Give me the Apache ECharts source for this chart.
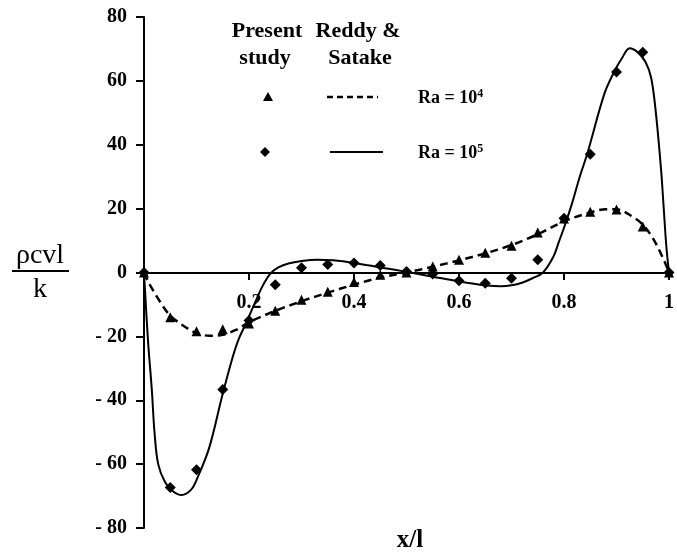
<!DOCTYPE html>
<html>
<head>
<meta charset="utf-8">
<script src="https://cdn.jsdelivr.net/npm/echarts@6/dist/echarts.min.js"></script>
<style>
    html, body { margin: 0; padding: 0; background: #fff; }
    #chart { width: 677px; height: 555px; }
</style>
</head>
<body>
<div id="chart"></div>
<script>
// present study, Ra = 10^4 (triangles)
var presentRa4 = [
    [0, 0], [0.05, -14], [0.1, -18.4], [0.15, -17.8], [0.2, -16], [0.25, -12],
    [0.3, -8.5], [0.35, -6], [0.4, -3], [0.45, -0.7], [0.5, 0], [0.55, 1.9],
    [0.6, 4], [0.65, 6.2], [0.7, 8.4], [0.75, 12.5], [0.8, 16.9], [0.85, 19],
    [0.9, 19.7], [0.95, 14.4], [1, 0]
];
// present study, Ra = 10^5 (diamonds)
var presentRa5 = [
    [0, 0], [0.05, -67.3], [0.1, -61.8], [0.15, -36.6], [0.2, -15], [0.25, -3.8],
    [0.3, 1.5], [0.35, 2.5], [0.4, 3], [0.45, 2.2], [0.5, 0.3], [0.55, -0.5],
    [0.6, -2.6], [0.65, -3.4], [0.7, -1.8], [0.75, 4], [0.8, 17], [0.85, 37],
    [0.9, 62.8], [0.95, 69], [1, 0]
];
// Reddy & Satake, Ra = 10^4 (dashed)
var reddyRa4 = [
    [0, 0], [0.01, -3.5], [0.03, -9], [0.05, -13.5], [0.08, -17.2], [0.1, -19],
    [0.125, -19.8], [0.15, -19.5], [0.175, -18], [0.2, -15.6], [0.25, -12],
    [0.3, -9], [0.35, -6.3], [0.4, -3.8], [0.45, -1.6], [0.5, 0], [0.55, 1.8],
    [0.6, 3.8], [0.65, 6], [0.7, 8.6], [0.75, 12], [0.8, 16], [0.85, 18.8],
    [0.88, 19.8], [0.9, 19.8], [0.93, 17.5], [0.95, 15], [0.97, 10.5],
    [0.99, 4], [1, 0]
];
// Reddy & Satake, Ra = 10^5 (solid)
var reddyRa5 = [
    [0, 0], [0.0075, -21], [0.015, -37], [0.02, -50], [0.027, -60], [0.04, -65.6],
    [0.055, -68.5], [0.072, -69.7], [0.09, -68], [0.1, -65], [0.124, -55],
    [0.149, -38.6], [0.168, -27], [0.18, -21], [0.194, -16], [0.21, -10],
    [0.225, -4.5], [0.24, -0.5], [0.255, 1.5], [0.275, 2.8], [0.3, 3.6], [0.33, 4],
    [0.36, 3.8], [0.4, 3], [0.45, 1.6], [0.5, 0.2], [0.55, -1.3], [0.6, -2.8],
    [0.65, -4], [0.68, -4.3], [0.7, -4], [0.72, -3.2], [0.74, -1.8], [0.76, 0],
    [0.78, 5], [0.79, 9.5], [0.8, 14], [0.815, 21.5], [0.83, 30], [0.844, 37],
    [0.877, 56], [0.896, 63], [0.91, 67], [0.925, 70.2], [0.94, 69], [0.955, 66],
    [0.966, 61], [0.975, 50], [0.985, 32], [0.99, 20], [0.995, 8], [1, 0]
];

var serif = '"Liberation Serif", "DejaVu Serif", serif';

var chart = echarts.init(document.getElementById('chart'));

function centerText(x, y, str, font) {
    return {
        type: 'text', x: x, y: y,
        style: { text: str, font: font, fill: '#000', align: 'center', verticalAlign: 'middle' }
    };
}

function raText(x, y, power) {
    return {
        type: 'text', x: x, y: y,
        style: {
            text: '{a|Ra = 10}{s|' + power + '}',
            verticalAlign: 'middle',
            rich: {
                a: { font: 'bold 18px ' + serif, fill: '#000' },
                s: { font: 'bold 12px ' + serif, fill: '#000', padding: [0, 0, 8, 0] }
            }
        }
    };
}

var option = {
    animation: false,
    backgroundColor: '#fff',
    grid: { left: 144, right: 1, top: 17, bottom: 27, containLabel: false },
    xAxis: {
        type: 'value', min: 0, max: 1, interval: 0.2,
        // the axis sits on y = 0 (grid is 511px tall, zero is 255px above bottom)
        offset: -255,
        axisLine: { onZero: false, lineStyle: { color: '#000', width: 2 } },
        axisTick: { length: 7, lineStyle: { color: '#000', width: 2 } },
        axisLabel: {
            margin: 20, color: '#000', fontFamily: serif, fontWeight: 'bold', fontSize: 20,
            formatter: function (v) { return v === 0 ? '' : String(v); }
        },
        splitLine: { show: false }
    },
    yAxis: {
        type: 'value', min: -80, max: 80, interval: 20,
        axisLine: { show: true, lineStyle: { color: '#000', width: 2 } },
        axisTick: { show: true, length: 8, lineStyle: { color: '#000', width: 2 } },
        axisLabel: {
            margin: 17, color: '#000', fontFamily: serif, fontWeight: 'bold', fontSize: 20,
            formatter: function (v) { return v < 0 ? '- ' + (-v) : String(v); }
        },
        splitLine: { show: false }
    },
    series: [
        {
            name: 'Reddy Ra4', type: 'line', data: reddyRa4, smooth: 0.35, showSymbol: false,
            lineStyle: { color: '#000', width: 2.5, type: [8, 5] }
        },
        {
            name: 'Reddy Ra5', type: 'line', data: reddyRa5, smooth: 0.35,
            showSymbol: false, lineStyle: { color: '#000', width: 2 }
        },
        {
            name: 'Present Ra4', type: 'scatter', data: presentRa4, symbol: 'triangle',
            symbolSize: 10, itemStyle: { color: '#000', opacity: 1 }
        },
        {
            name: 'Present Ra5', type: 'scatter', data: presentRa5, symbol: 'diamond',
            symbolSize: 11, itemStyle: { color: '#000', opacity: 1 }
        }
    ],
    graphic: [
        // y axis name as fraction
        centerText(40, 256, 'ρcvl', '28px ' + serif),
        { type: 'line', shape: { x1: 12, y1: 271, x2: 69, y2: 271 }, style: { stroke: '#000', lineWidth: 2 } },
        centerText(40, 290, 'k', '28px ' + serif),
        // x axis name
        centerText(410, 541, 'x/l', 'bold 25px ' + serif),
        // legend table
        centerText(267, 31, 'Present', 'bold 22px ' + serif),
        centerText(265, 58, 'study', 'bold 22px ' + serif),
        centerText(358, 31, 'Reddy &', 'bold 22px ' + serif),
        centerText(360, 58, 'Satake', 'bold 22px ' + serif),
        { type: 'polygon', shape: { points: [[268, 92], [273, 101], [263, 101]] }, style: { fill: '#000' } },
        { type: 'polygon', shape: { points: [[265, 147], [270, 152], [265, 157], [260, 152]] }, style: { fill: '#000' } },
        { type: 'line', shape: { x1: 327, y1: 97, x2: 378, y2: 97 }, style: { stroke: '#000', lineWidth: 2.5, lineDash: [6, 4] } },
        { type: 'line', shape: { x1: 330, y1: 152, x2: 383, y2: 152 }, style: { stroke: '#000', lineWidth: 2 } },
        raText(418, 98, 4),
        raText(418, 153, 5)
    ]
};

chart.setOption(option);
</script>
</body>
</html>
